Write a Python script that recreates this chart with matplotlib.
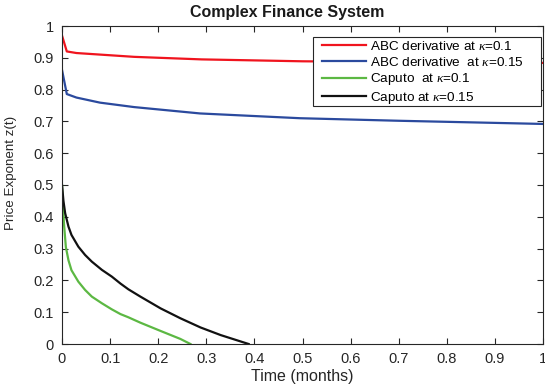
import matplotlib
matplotlib.use("Agg")
import matplotlib.pyplot as plt
from matplotlib.patches import Rectangle

plt.rcParams['font.family'] = ['Liberation Sans', 'DejaVu Sans']
plt.rcParams['mathtext.fontset'] = 'custom'
plt.rcParams['mathtext.it'] = 'Liberation Serif:italic'

# Data
t_red = [0.0, 0.01, 0.03, 0.08, 0.15, 0.29, 0.5, 0.75, 1.0]
z_red = [0.97, 0.92, 0.915, 0.910, 0.903, 0.895, 0.889, 0.886, 0.884]

t_blue = [0.0, 0.01, 0.03, 0.079, 0.15, 0.287, 0.495, 0.70, 1.0]
z_blue = [0.862, 0.786, 0.775, 0.759, 0.745, 0.725, 0.710, 0.702, 0.692]

t_green = [0.0, 0.004, 0.008, 0.0135, 0.0197, 0.034, 0.048, 0.062, 0.083, 0.1035,
           0.1216, 0.138, 0.163, 0.205, 0.246, 0.267]
z_green = [0.5, 0.38, 0.305, 0.263, 0.232, 0.196, 0.170, 0.149, 0.128, 0.109,
           0.094, 0.084, 0.067, 0.041, 0.016, 0.0]

t_black = [0.0, 0.003, 0.0066, 0.0135, 0.0197, 0.034, 0.048, 0.062, 0.083, 0.1035,
           0.1216, 0.138, 0.163, 0.205, 0.246, 0.288, 0.33, 0.388]
z_black = [0.5, 0.45, 0.411, 0.369, 0.343, 0.306, 0.280, 0.259, 0.233, 0.212,
           0.190, 0.172, 0.149, 0.112, 0.081, 0.052, 0.028, 0.0]

labels = ['ABC derivative at $\\kappa$=0.1',
          'ABC derivative  at $\\kappa$=0.15',
          'Caputo  at $\\kappa$=0.1',
          'Caputo at $\\kappa$=0.15']
colors = ['#f0141e', '#2b4a9e', '#5cb843', '#111111']

xticks = [0, 0.1, 0.2, 0.3, 0.4, 0.5, 0.6, 0.7, 0.8, 0.9, 1]
yticks = [0, 0.1, 0.2, 0.3, 0.4, 0.5, 0.6, 0.7, 0.8, 0.9, 1]
ticklabels = ['0', '0.1', '0.2', '0.3', '0.4', '0.5', '0.6', '0.7', '0.8', '0.9', '1']

W, H = 545, 387
L, R, T, B = 62, 543, 26, 344
fig = plt.figure(figsize=(W / 100, H / 100), dpi=100)
ax = fig.add_axes([L / W, (H - B) / H, (R - L) / W, (B - T) / H])

def ax_x(px):
    return (px - L) / (R - L)

def ax_y(py):
    return (B - py) / (B - T)

series = [(t_red, z_red), (t_blue, z_blue), (t_green, z_green), (t_black, z_black)]
for (tt, zz), c, lab in zip(series, colors, labels):
    ax.plot(tt, zz, color=c, lw=1.6, label=lab, solid_joinstyle='round')

ax.set_xlim(0, 1)
ax.set_ylim(0, 1)
ax.set_xticks(xticks)
ax.set_yticks(yticks)
ax.set_xticklabels(ticklabels)
ax.set_yticklabels(ticklabels)
ax.tick_params(direction='in', length=4, width=0.8, colors='#262626',
               labelsize=10.5, top=True, right=True, labelcolor='#262626', pad=6)
for s in ax.spines.values():
    s.set_color('#262626')
    s.set_linewidth(0.8)

ax.text(ax_x(287), ax_y(13), 'Complex Finance System', transform=ax.transAxes,
        ha='center', va='center', fontsize=11.5, fontweight='bold', color='#1a1a1a')
ax.set_xlabel('Time (months)', fontsize=11.5, color='#262626', labelpad=2)
ax.set_ylabel('Price Exponent z(t)', fontsize=9.6, color='#262626')
ax.yaxis.set_label_coords(ax_x(17), ax_y(173))

# legend frame
x0, x1, y0, y1 = ax_x(313), ax_x(541), ax_y(106), ax_y(37)
frame = Rectangle((x0, y0), x1 - x0, y1 - y0, transform=ax.transAxes,
                  facecolor='white', edgecolor='#262626', lw=0.8, zorder=4.5)
ax.add_patch(frame)

leg = ax.legend(loc='upper left', bbox_to_anchor=(ax_x(322), ax_y(40)), borderaxespad=0,
                fontsize=9.7, frameon=False,
                handlelength=3.3, handletextpad=0.25, borderpad=0.0, labelspacing=0.2)
leg.set_zorder(5)

fig.savefig('out.png', dpi=100)
